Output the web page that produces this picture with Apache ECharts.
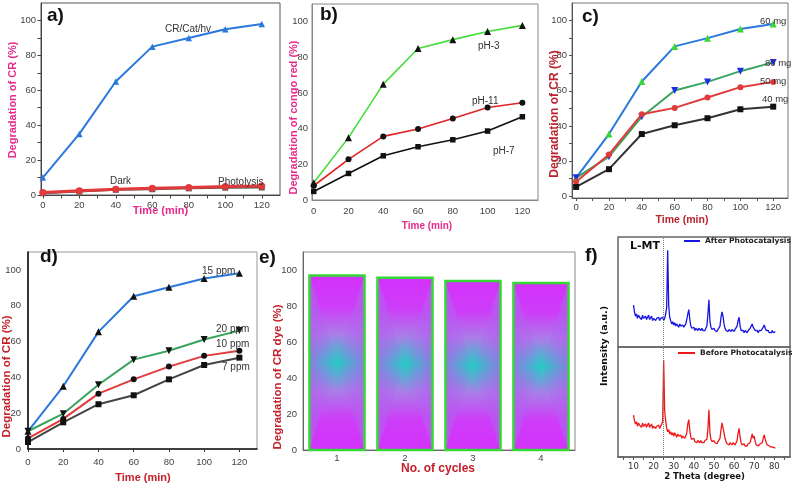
<!DOCTYPE html>
<html><head><meta charset="utf-8">
<script src="https://cdn.jsdelivr.net/npm/echarts@6/dist/echarts.min.js"></script>
<style>html,body{margin:0;padding:0;background:#fff}#c{width:793px;height:486px}</style>
</head><body><div id="c"></div>
<script>
// ---------- data ----------
const timeMin = [0, 20, 40, 60, 80, 100, 120];
const timeTicks = [0, 20, 40, 60, 80, 100, 120];
const timeMinorTicks = [0, 10, 20, 30, 40, 50, 60, 70, 80, 90, 100, 110, 120];
const pctTicks = [0, 20, 40, 60, 80, 100];
const pctMinorTicks = [0, 10, 20, 30, 40, 50, 60, 70, 80, 90, 100];

// a) controls
const aCatLight = [10, 35, 65, 85, 90, 95, 98];
const aDark = [1, 2, 3, 3.3, 3.8, 4.2, 4.3];
const aPhotolysis = [1.5, 2.5, 3.3, 3.8, 4.3, 4.8, 5.2];
// b) pH
const bPH3 = [9.7, 35, 65, 85, 90, 94.6, 98];
const bPH11 = [8, 22.8, 35.7, 39.8, 45.8, 51.9, 54.6];
const bPH7 = [4.8, 14.9, 24.8, 29.9, 33.8, 38.7, 46.7];
// c) catalyst dose
const c60mg = [10.5, 35.4, 65.3, 85.3, 90, 95.2, 98];
const c80mg = [10.5, 22.5, 45.3, 60.2, 65.1, 71.2, 76.2];
const c50mg = [8.2, 23.8, 46.7, 50.3, 56.2, 62.1, 65.1];
const c40mg = [5.3, 15.4, 35.4, 40.4, 44.4, 49.5, 51];
// d) dye concentration
const d15ppm = [9.9, 35, 65.4, 85.3, 90.3, 95.2, 98.1];
const d20ppm = [9.9, 19.7, 35.9, 49.9, 54.9, 61.1, 66.1];
const d10ppm = [6, 16.8, 30.9, 38.9, 46, 52, 54.9];
const d7ppm = [3.9, 14.9, 25, 30, 38.9, 46.9, 51];
// e) reuse cycles
const cycles = ['1', '2', '3', '4'];
const cycleDegradation = [97, 95.7, 93.9, 92.8];
// f) XRD
const xrdTheta = [
  10,10.5,11,11.5,12,12.5,13,13.5,14,14.5,15,15.5,16,16.5,17,17.5,18,18.5,19,19.5,
  20,20.5,21,21.5,22,22.5,23,23.5,24,24.5,25,25.5,26,26.5,27,27.5,28,28.5,29,29.5,
  30,30.5,31,31.5,32,32.5,33,33.5,34,34.5,35,35.5,36,36.5,37,37.5,38,38.5,39,39.5,
  40,40.5,41,41.5,42,42.5,43,43.5,44,44.5,45,45.5,46,46.5,47,47.5,48,48.5,49,49.5,
  50,50.5,51,51.5,52,52.5,53,53.5,54,54.5,55,55.5,56,56.5,57,57.5,58,58.5,59,59.5,
  60,60.5,61,61.5,62,62.5,63,63.5,64,64.5,65,65.5,66,66.5,67,67.5,68,68.5,69,69.5,
  70,70.5,71,71.5,72,72.5,73,73.5,74,74.5,75,75.5,76,76.5,77,77.5,78,78.5,79,79.5,
  80,80.5];
const xrdBefore = [
  38,33,30,32,28,31,29,30,27,31,28,29,30,27,29,31,27,28,30,26,
  28,29,26,28,27,29,26,28,27,32,88,42,33,26,23,25,21,23,20,22,
  19,22,20,18,21,19,18,20,17,19,18,17,19,22,30,34,24,18,16,15,
  17,14,15,13,15,14,13,15,13,14,13,15,14,16,26,43,22,16,14,13,
  15,13,14,12,14,15,17,25,31,30,22,17,14,12,13,11,13,12,11,13,
  12,11,13,15,22,26,18,13,11,10,12,10,11,10,12,11,13,17,21,17,
  19,14,11,12,10,11,12,11,13,17,20,16,13,11,12,10,11,9,10,9,
  10,8];
const xrdAfter = [
  38,32,28,30,26,29,27,28,25,29,26,27,28,25,27,29,25,26,28,24,
  26,27,24,26,25,27,24,26,25,27,24,26,30,36,88,38,27,24,21,23,
  20,22,19,21,20,18,21,19,18,20,18,19,21,25,30,34,25,19,17,16,
  18,15,17,16,15,17,16,15,17,15,16,15,17,19,30,43,23,18,16,15,
  17,15,16,14,16,17,19,27,32,28,21,17,15,16,14,16,15,14,16,15,
  14,16,17,19,24,27,19,15,14,15,13,15,14,13,15,16,17,19,21,18,
  19,15,14,15,13,15,14,15,16,18,20,17,15,14,15,13,14,13,15,13,
  14,14];
const xrdTicks = [10, 20, 30, 40, 50, 60, 70, 80];
const xrdMinorTicks = [5, 10, 15, 20, 25, 30, 35, 40, 45, 50, 55, 60, 65, 70, 75, 80, 85];
const lmtTheta = 24.9;

// ---------- helpers ----------
const pairs = (xs, ys) => xs.map((x, i) => [x, ys[i]]);
const TXT = '#444';
const SANS = 'Liberation Sans, Arial, sans-serif';
const DJV = 'DejaVu Sans, sans-serif';
const MAG = '#e52a8c';
const DRED = '#b92530';
const RED2 = '#c4202a';

function lbl(extra) {
  return Object.assign({ fontSize: 9.5, color: TXT, fontFamily: SANS }, extra);
}
function lineS(name, xi, data, color, symbol, symColor, opts) {
  return Object.assign({
    type: 'line', name: name, xAxisIndex: xi, yAxisIndex: xi, data: data,
    symbol: symbol, symbolSize: 6.5, showSymbol: true,
    lineStyle: { color: color, width: 1.6 },
    itemStyle: { color: symColor },
    emphasis: { disabled: true }, z: 3
  }, opts || {});
}

const grids = [
  { left: 41, top: 3, width: 239, height: 192, show: true, borderColor: '#555', borderWidth: 1 },
  { left: 312, top: 4, width: 226, height: 196, show: true, borderColor: '#888', borderWidth: 1 },
  { left: 572, top: 3, width: 216, height: 195, show: true, borderColor: '#777', borderWidth: 1 },
  { left: 28, top: 252, width: 229, height: 197, show: true, borderColor: '#999', borderWidth: 1 },
  { left: 303, top: 252, width: 272, height: 198, show: true, borderColor: '#888', borderWidth: 1 },
  { left: 618, top: 237, width: 172, height: 110, show: true, borderColor: '#666', borderWidth: 1.5 },
  { left: 618, top: 347, width: 172, height: 110, show: true, borderColor: '#666', borderWidth: 1.5 }
];

const xAxes = [
  { gridIndex: 0, type: 'value', min: -1, max: 130,
    axisLine: { show: true, onZero: false, lineStyle: { color: '#444' } },
    axisTick: { show: true, length: 3.5, customValues: timeMinorTicks, lineStyle: { color: '#444' } },
    axisLabel: lbl({ customValues: timeTicks, margin: 5 }), splitLine: { show: false } },
  { gridIndex: 1, type: 'value', min: -1, max: 129,
    axisLine: { show: true, onZero: false, lineStyle: { color: '#888' } },
    axisTick: { show: false },
    axisLabel: lbl({ customValues: timeTicks, margin: 6 }), splitLine: { show: false } },
  { gridIndex: 2, type: 'value', min: -2.5, max: 129,
    axisLine: { show: true, onZero: false, lineStyle: { color: '#555' } },
    axisTick: { show: true, length: 3, customValues: timeMinorTicks, lineStyle: { color: '#555' } },
    axisLabel: lbl({ customValues: timeTicks, margin: 4 }), splitLine: { show: false } },
  { gridIndex: 3, type: 'value', min: 0, max: 130,
    axisLine: { show: true, onZero: false, lineStyle: { color: '#111', width: 1.6 } },
    axisTick: { show: true, length: 3, customValues: timeTicks, lineStyle: { color: '#333' } },
    axisLabel: lbl({ customValues: timeTicks, margin: 8 }), splitLine: { show: false } },
  { gridIndex: 4, type: 'category', data: cycles, boundaryGap: true,
    axisLine: { show: true, lineStyle: { color: '#666' } },
    axisTick: { show: false },
    axisLabel: lbl({ margin: 3 }), splitLine: { show: false } },
  { gridIndex: 5, type: 'value', min: 2.3, max: 87.8,
    axisLine: { show: false }, axisTick: { show: false }, axisLabel: { show: false }, splitLine: { show: false } },
  { gridIndex: 6, type: 'value', min: 2.3, max: 87.8,
    axisLine: { show: true, onZero: false, lineStyle: { color: '#666', width: 1.5 } },
    axisTick: { show: true, length: 3, customValues: xrdMinorTicks, lineStyle: { color: '#555' } },
    axisLabel: { customValues: xrdTicks, fontSize: 8.5, color: '#333', fontFamily: DJV, margin: 5 },
    splitLine: { show: false } }
];

const yAxes = [
  { gridIndex: 0, type: 'value', min: 0, max: 110,
    axisLine: { show: true, onZero: false, lineStyle: { color: '#444' } },
    axisTick: { show: true, length: 3.5, customValues: pctMinorTicks, lineStyle: { color: '#444' } },
    axisLabel: lbl({ customValues: pctTicks, margin: 5 }), splitLine: { show: false } },
  { gridIndex: 1, type: 'value', min: 0, max: 110,
    axisLine: { show: true, onZero: false, lineStyle: { color: '#888' } },
    axisTick: { show: false },
    axisLabel: lbl({ customValues: pctTicks, margin: 4 }), splitLine: { show: false } },
  { gridIndex: 2, type: 'value', min: -1, max: 110,
    axisLine: { show: true, onZero: false, lineStyle: { color: '#555' } },
    axisTick: { show: true, length: 3, customValues: pctMinorTicks, lineStyle: { color: '#555' } },
    axisLabel: lbl({ customValues: pctTicks, margin: 5 }), splitLine: { show: false } },
  { gridIndex: 3, type: 'value', min: 0, max: 110,
    axisLine: { show: true, onZero: false, lineStyle: { color: '#111', width: 1.6 } },
    axisTick: { show: false },
    axisLabel: lbl({ customValues: pctTicks, margin: 7 }), splitLine: { show: false } },
  { gridIndex: 4, type: 'value', min: 0, max: 110,
    axisLine: { show: true, onZero: false, lineStyle: { color: '#666' } },
    axisTick: { show: false },
    axisLabel: lbl({ customValues: pctTicks, margin: 6 }), splitLine: { show: false } },
  { gridIndex: 5, type: 'value', min: 0, max: 100, show: false },
  { gridIndex: 6, type: 'value', min: 0, max: 100, show: false }
];

// e) bar with centre gradient
function cycleBar(params, api) {
  const top = api.coord([api.value(0), api.value(1)]);
  const base = api.coord([api.value(0), 0]);
  const band = api.size([1, 0])[0];
  const w = band * 0.81;
  const l = top[0] - w / 2, r = top[0] + w / 2, t = top[1], b = base[1];
  const cx = top[0], cy = (t + b) / 2;
  const vert = { type: 'linear', x: 0, y: 0, x2: 0, y2: 1, colorStops: [
    { offset: 0, color: '#d431fb' }, { offset: 0.18, color: '#cd3ef8' },
    { offset: 0.34, color: '#a97ee8' }, { offset: 0.5, color: '#22cdc4' },
    { offset: 0.66, color: '#a97ee8' }, { offset: 0.82, color: '#cd3ef8' },
    { offset: 1, color: '#d431fb' }] };
  const hL = { type: 'linear', x: 0, y: 0, x2: 1, y2: 0, colorStops: [
    { offset: 0, color: 'rgba(178,96,238,0.75)' }, { offset: 1, color: 'rgba(178,96,238,0)' }] };
  const hR = { type: 'linear', x: 1, y: 0, x2: 0, y2: 0, colorStops: [
    { offset: 0, color: 'rgba(178,96,238,0.75)' }, { offset: 1, color: 'rgba(178,96,238,0)' }] };
  return {
    type: 'group',
    children: [
      { type: 'rect', shape: { x: l, y: t, width: w, height: b - t }, style: { fill: vert } },
      { type: 'polygon', shape: { points: [[l, t], [l, b], [cx, cy]] }, style: { fill: hL } },
      { type: 'polygon', shape: { points: [[r, t], [r, b], [cx, cy]] }, style: { fill: hR } },
      { type: 'rect', shape: { x: l, y: t, width: w, height: b - t }, style: { fill: 'none', stroke: '#35d835', lineWidth: 2.5 } }
    ]
  };
}

const dotted = {
  silent: true, symbol: ['none', 'none'], label: { show: false },
  lineStyle: { type: 'dotted', color: '#777', width: 1 },
  data: [{ xAxis: lmtTheta }]
};

const series = [
  // a
  lineS('CR/Cat/hv', 0, pairs(timeMin, aCatLight), '#2b78dc', 'triangle', '#2b78dc', { lineStyle: { color: '#2b78dc', width: 2 } }),
  lineS('Dark', 0, pairs(timeMin, aDark), '#555', 'rect', '#555', { lineStyle: { color: '#555', width: 2 }, symbolSize: 6 }),
  lineS('Photolysis', 0, pairs(timeMin, aPhotolysis), '#e23a3a', 'circle', '#e23a3a', { lineStyle: { color: '#e23a3a', width: 3 }, symbolSize: 7 }),
  // b
  lineS('pH-3', 1, pairs(timeMin, bPH3), '#45dd3a', 'triangle', '#111', { symbolSize: 7 }),
  lineS('pH-11', 1, pairs(timeMin, bPH11), '#e02424', 'circle', '#111', { symbolSize: 6 }),
  lineS('pH-7', 1, pairs(timeMin, bPH7), '#111', 'rect', '#111', { symbolSize: 5.5 }),
  // c
  lineS('60 mg', 2, pairs(timeMin, c60mg), '#2b78dc', 'triangle', '#35d835', { lineStyle: { color: '#2b78dc', width: 2 }, symbolSize: 7 }),
  lineS('80 mg', 2, pairs(timeMin, c80mg), '#3aa35e', 'triangle', '#1f2fe6', { lineStyle: { color: '#3aa35e', width: 2 }, symbolRotate: 180, symbolSize: 7 }),
  lineS('50 mg', 2, pairs(timeMin, c50mg), '#e23a3a', 'circle', '#e23a3a', { lineStyle: { color: '#e23a3a', width: 2 }, symbolSize: 6 }),
  lineS('40 mg', 2, pairs(timeMin, c40mg), '#333', 'rect', '#111', { lineStyle: { color: '#333', width: 2 }, symbolSize: 6 }),
  // d
  lineS('15 ppm', 3, pairs(timeMin, d15ppm), '#2b78dc', 'triangle', '#111', { lineStyle: { color: '#2b78dc', width: 2 }, symbolSize: 7 }),
  lineS('20 ppm', 3, pairs(timeMin, d20ppm), '#3aa35e', 'triangle', '#111', { lineStyle: { color: '#3aa35e', width: 2 }, symbolRotate: 180, symbolSize: 7 }),
  lineS('10 ppm', 3, pairs(timeMin, d10ppm), '#e23a3a', 'circle', '#111', { lineStyle: { color: '#e23a3a', width: 2 }, symbolSize: 6 }),
  lineS('7 ppm', 3, pairs(timeMin, d7ppm), '#444', 'rect', '#111', { lineStyle: { color: '#444', width: 2 }, symbolSize: 6 }),
  // e
  { type: 'custom', name: 'cycles', xAxisIndex: 4, yAxisIndex: 4,
    data: cycleDegradation.map((v, i) => [i, v]), encode: { x: 0, y: 1 }, renderItem: cycleBar, silent: true },
  // f
  { type: 'line', name: 'After Photocatalysis', xAxisIndex: 5, yAxisIndex: 5, data: pairs(xrdTheta, xrdAfter),
    showSymbol: false, symbol: 'none', lineStyle: { color: '#1616e0', width: 1.3 }, itemStyle: { color: '#1616e0' },
    markLine: dotted, silent: true },
  { type: 'line', name: 'Before Photocatalysis', xAxisIndex: 6, yAxisIndex: 6, data: pairs(xrdTheta, xrdBefore),
    showSymbol: false, symbol: 'none', lineStyle: { color: '#ee1818', width: 1.3 }, itemStyle: { color: '#ee1818' },
    markLine: dotted, silent: true }
];

// ---------- texts ----------
function t(text, x, y, font, fill, opts) {
  return Object.assign({ type: 'text', x: x, y: y, silent: true, z: 50,
    style: Object.assign({ text: text, font: font, fill: fill, align: 'left', verticalAlign: 'middle' }, (opts && opts.style) || {}) },
    (opts && opts.el) || {});
}
function vt(text, x, y, font, fill) {
  return { type: 'text', x: x, y: y, rotation: Math.PI / 2, silent: true, z: 50,
    style: { text: text, font: font, fill: fill, align: 'center', verticalAlign: 'middle' } };
}
const B = (s, f) => 'bold ' + s + 'px ' + (f || SANS);
const N = (s, f) => s + 'px ' + (f || SANS);
const ctr = { style: { align: 'center' } };

const graphics = [
  // panel tags
  t('a)', 47, 16, B(19), '#111'), t('b)', 320, 15, B(19), '#111'), t('c)', 582, 17, B(19), '#111'),
  t('d)', 40, 257, B(19), '#111'), t('e)', 259, 258, B(19), '#111'), t('f)', 585, 256, B(19), '#111'),
  // a
  vt('Degradation of CR (%)', 13, 100, B(11), MAG),
  t('Time (min)', 160.5, 211, B(11), MAG, ctr),
  t('CR/Cat/hv', 165, 29, N(10), '#333'),
  t('Dark', 110, 181, N(10), '#333'),
  t('Photolysis', 218, 182, N(10), '#333'),
  // b
  vt('Degradation of congo red (%)', 294, 117.5, B(11), MAG),
  t('Time (min)', 427, 226, B(10), MAG, ctr),
  t('pH-3', 478, 46, N(10), '#333'),
  t('pH-11', 472, 101, N(10), '#333'),
  t('pH-7', 493, 151, N(10), '#333'),
  // c
  vt('Degradation of CR (%)', 555, 114, B(12), DRED),
  t('Time (min)', 682, 220, B(10.5), DRED, ctr),
  t('60 mg', 760, 21, N(9.5), '#333'),
  t('80 mg', 765, 63, N(9.5), '#333'),
  t('50 mg', 760, 81, N(9.5), '#333'),
  t('40 mg', 762, 99, N(9.5), '#333'),
  // d
  vt('Degradation of CR (%)', 7, 376.5, B(11.5), RED2),
  t('Time (min)', 143, 478, B(11), RED2, ctr),
  t('15 ppm', 202, 271, N(10), '#333'),
  t('20 ppm', 216, 329, N(10), '#333'),
  t('10 ppm', 216, 344, N(10), '#333'),
  t('7 ppm', 222, 367, N(10), '#333'),
  // e
  vt('Degradation of CR dye (%)', 278, 377, B(11.5), RED2),
  t('No. of cycles', 438, 469, B(12), RED2, ctr),
  // f
  vt('Intensity (a.u.)', 605, 346, B(9.5, DJV), '#111'),
  t('2 Theta (degree)', 704.5, 477, B(8.5, DJV), '#111', ctr),
  t('L-MT', 645, 246, B(11, DJV), '#111', ctr)
];

const legendText = { fontSize: 7.5, fontWeight: 'bold', fontFamily: DJV, color: '#222' };
const chart = echarts.init(document.getElementById('c'), null, { renderer: 'canvas' });
chart.setOption({
  animation: false,
  backgroundColor: '#fff',
  grid: grids,
  xAxis: xAxes,
  yAxis: yAxes,
  legend: [
    { data: ['After Photocatalysis'], left: 684, top: 237, padding: 0, itemWidth: 16, itemHeight: 2, itemGap: 4,
      icon: 'rect', textStyle: legendText, selectedMode: false },
    { data: ['Before Photocatalysis'], left: 678, top: 349, padding: 0, itemWidth: 17, itemHeight: 2, itemGap: 4,
      icon: 'rect', textStyle: legendText, selectedMode: false }
  ],
  series: series,
  graphic: graphics
});
</script></body></html>
